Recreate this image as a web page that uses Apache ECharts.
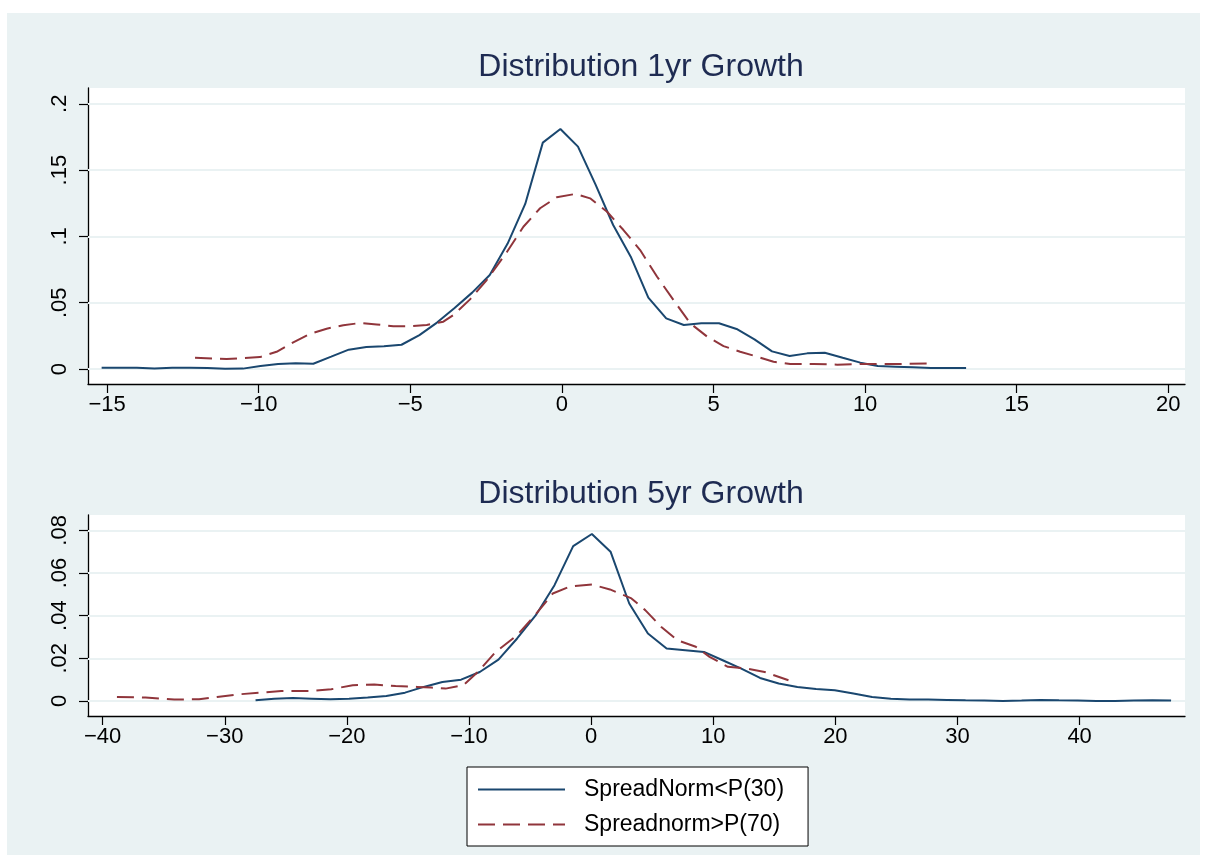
<!DOCTYPE html>
<html>
<head>
<meta charset="utf-8">
<script src="https://cdn.jsdelivr.net/npm/echarts@6/dist/echarts.min.js"></script>
<style>
html,body{margin:0;padding:0;background:#fff;}
#chart{width:1207px;height:861px;}
</style>
</head>
<body>
<div id="chart"></div>
<script>
// ---------- Data ----------
const seriesNames = ['SpreadNorm<P(30)', 'Spreadnorm>P(70)'];
const titles = ['Distribution 1yr Growth', 'Distribution 5yr Growth'];

// 1yr growth – SpreadNorm<P(30)
const x1yrLow = [-15.18,-14.60,-14.02,-13.44,-12.85,-12.27,-11.69,-11.11,-10.52,-9.94,-9.36,-8.78,-8.20,-7.61,-7.03,-6.45,-5.87,-5.29,-4.70,-4.12,-3.54,-2.96,-2.38,-1.79,-1.21,-0.63,-0.05,0.53,1.11,1.69,2.27,2.85,3.44,4.02,4.60,5.18,5.76,6.35,6.93,7.51,8.09,8.67,9.26,9.84,10.42,11.00,11.58,12.17,12.75,13.33];
const y1yrLow = [0.001,0.001,0.001,0.0003,0.001,0.001,0.0008,0.0002,0.0003,0.0023,0.0038,0.0043,0.004,0.0093,0.0146,0.0166,0.0171,0.0183,0.0256,0.035,0.046,0.0576,0.0709,0.0946,0.1245,0.1707,0.181,0.1677,0.139,0.1086,0.0847,0.0538,0.0382,0.0332,0.0345,0.0345,0.0302,0.0224,0.0133,0.0098,0.0118,0.0123,0.0085,0.0048,0.0023,0.0018,0.0013,0.0008,0.0008,0.0008];

// 1yr growth – Spreadnorm>P(70)
const x1yrHigh = [-12.1,-11.06,-9.96,-9.41,-8.86,-8.31,-7.76,-7.21,-6.66,-6.11,-5.56,-5.01,-4.46,-3.91,-3.58,-3.03,-2.48,-1.82,-1.27,-0.72,-0.17,0.44,0.93,1.49,2.03,2.58,3.14,3.68,4.23,4.79,5.33,5.88,6.44,6.98,7.53,8.3,9.08,9.95,11.06,12.18];
const y1yrHigh = [0.0085,0.0075,0.009,0.013,0.0201,0.0264,0.0304,0.033,0.0347,0.0336,0.0322,0.0322,0.0332,0.0357,0.0407,0.0525,0.0671,0.088,0.1073,0.1212,0.1295,0.132,0.1287,0.1186,0.1048,0.0897,0.0696,0.052,0.0345,0.0244,0.0173,0.013,0.0093,0.0055,0.0038,0.0038,0.0033,0.0038,0.0038,0.0043];

// 5yr growth – SpreadNorm<P(30)
const x5yrLow = [-27.48,-25.95,-24.42,-22.89,-21.36,-19.83,-18.30,-16.77,-15.24,-13.71,-12.18,-10.65,-9.12,-7.59,-6.06,-4.53,-3.00,-1.47,0.06,1.59,3.12,4.65,6.18,7.71,9.24,10.77,12.30,13.83,15.36,16.89,18.42,19.95,21.48,23.01,24.54,26.07,27.60,29.13,30.66,32.19,33.72,35.25,36.78,38.31,39.84,41.37,42.90,44.43,45.96,47.49];
const y5yrLow = [0.0003,0.0011,0.0014,0.0011,0.0008,0.0011,0.0016,0.0023,0.0039,0.0066,0.0089,0.01,0.0136,0.0194,0.0293,0.0402,0.0543,0.0726,0.0783,0.07,0.0457,0.0316,0.0246,0.0238,0.023,0.0191,0.0152,0.0108,0.0082,0.0066,0.0056,0.005,0.0035,0.0019,0.0011,0.0007,0.0007,0.0005,0.0003,0.0002,0.0,0.0002,0.0005,0.0003,0.0002,0.0,0.0,0.0002,0.0003,0.0002];

// 5yr growth – Spreadnorm>P(70)
const x5yrHigh = [-38.83,-36.49,-34.14,-32.1,-30.63,-28.88,-27.12,-25.37,-23.03,-21.28,-19.52,-17.76,-16.01,-14.26,-13.09,-11.92,-10.45,-9.28,-7.82,-6.07,-4.6,-3.14,-1.68,0.08,1.54,3.3,4.43,5.75,7.06,8.57,9.7,11.2,12.7,14.21,16.16];
const y5yrHigh = [0.0019,0.0016,0.0007,0.0008,0.0019,0.0031,0.0039,0.0047,0.0047,0.0055,0.0074,0.0077,0.007,0.0066,0.0063,0.0058,0.0074,0.0136,0.023,0.0308,0.0402,0.0504,0.0538,0.0546,0.0523,0.0481,0.0426,0.0347,0.0285,0.0254,0.0207,0.016,0.0152,0.0136,0.0097];

// Tick values / labels
const xTicks1yr = [-15,-10,-5,0,5,10,15,20];
const yTicks1yr = [0,0.05,0.1,0.15,0.2];
const yLabels1yr = ['0','.05','.1','.15','.2'];
const xTicks5yr = [-40,-30,-20,-10,0,10,20,30,40];
const yTicks5yr = [0,0.02,0.04,0.06,0.08];
const yLabels5yr = ['0','.02','.04','.06','.08'];

// ---------- Styling ----------
const FONT = "'Liberation Sans', Arial, Helvetica, sans-serif";
const BLUE = '#1a476f';
const RED = '#90353b';
const PANEL = '#eaf2f3';
const TITLE = '#1e2b52';

const zip = (xs, ys) => xs.map((x, i) => [x, ys[i]]);
const fmtX = v => (v < 0 ? '\u2212' + Math.abs(v) : String(v));
const yFmt = (ticks, labels) => v => {
  const i = ticks.findIndex(t => Math.abs(t - v) < 1e-9);
  return i >= 0 ? labels[i] : '';
};

function xAxisCfg(gridIndex, min, max, ticks) {
  return {
    type: 'value', gridIndex, min, max,
    axisLine: {show: true, onZero: false, lineStyle: {color: '#000', width: 1.3}},
    axisTick: {show: true, length: 9, customValues: ticks, lineStyle: {color: '#000', width: 1.2}},
    axisLabel: {show: true, customValues: ticks, formatter: fmtX, color: '#000',
      fontFamily: FONT, fontSize: 22, margin: 10},
    splitLine: {show: false}
  };
}
function yAxisCfg(gridIndex, min, max, ticks, labels) {
  return {
    type: 'value', gridIndex, min, max,
    axisLine: {show: true, onZero: false, lineStyle: {color: '#000', width: 1.3}},
    axisTick: {show: true, length: 9, customValues: ticks, lineStyle: {color: '#000', width: 1.2}},
    axisLabel: {show: true, customValues: ticks, formatter: yFmt(ticks, labels), rotate: 90,
      color: '#000', fontFamily: FONT, fontSize: 22, margin: 17},
    splitLine: {show: false}
  };
}
function gridLines(ticks) {
  return {
    silent: true, symbol: ['none', 'none'], z: 1,
    label: {show: false},
    lineStyle: {color: PANEL, width: 2, type: 'solid'},
    emphasis: {disabled: true},
    data: ticks.map(v => ({yAxis: v}))
  };
}
function lineSeries(name, xi, data, dashed, marks) {
  const s = {
    name, type: 'line', xAxisIndex: xi, yAxisIndex: xi, data,
    showSymbol: false, symbol: 'none', smooth: false, z: 3,
    lineStyle: dashed ? {color: RED, width: 2, type: [17, 8]} : {color: BLUE, width: 2, type: 'solid'},
    itemStyle: {color: dashed ? RED : BLUE},
    emphasis: {disabled: true}
  };
  if (marks) s.markLine = marks;
  return s;
}

const chart = echarts.init(document.getElementById('chart'), null, {renderer: 'canvas'});
chart.setOption({
  animation: false,
  backgroundColor: '#fff',
  graphic: [{
    type: 'rect', z: -100, silent: true,
    shape: {x: 7, y: 13, width: 1193, height: 842},
    style: {fill: PANEL}
  }],
  title: [
    {text: titles[0], left: 636, top: 46, textAlign: 'center',
      textStyle: {fontFamily: FONT, fontSize: 32, fontWeight: 'normal', color: TITLE}},
    {text: titles[1], left: 636, top: 473, textAlign: 'center',
      textStyle: {fontFamily: FONT, fontSize: 32, fontWeight: 'normal', color: TITLE}}
  ],
  grid: [
    {left: 88, right: 22, top: 88, height: 296, show: true, backgroundColor: '#fff', borderWidth: 0},
    {left: 88, right: 22, top: 515, height: 201, show: true, backgroundColor: '#fff', borderWidth: 0}
  ],
  xAxis: [
    xAxisCfg(0, -15.63, 20.55, xTicks1yr),
    xAxisCfg(1, -41.2, 48.63, xTicks5yr)
  ],
  yAxis: [
    yAxisCfg(0, -0.0113, 0.2119, yTicks1yr, yLabels1yr),
    yAxisCfg(1, -0.00704, 0.0872, yTicks5yr, yLabels5yr)
  ],
  legend: {
    left: 467, top: 767, orient: 'vertical',
    data: seriesNames,
    backgroundColor: '#fff', borderColor: '#000', borderWidth: 1,
    padding: [11, 24, 10, 10],
    itemWidth: 87, itemHeight: 20, itemGap: 12,
    selectedMode: false,
    itemStyle: {color: 'transparent', borderColor: 'transparent', borderWidth: 0, opacity: 0},
    textStyle: {fontFamily: FONT, fontSize: 23, color: '#000', padding: [0, 0, 0, 14]}
  },
  series: [
    lineSeries(seriesNames[0], 0, zip(x1yrLow, y1yrLow), false, gridLines(yTicks1yr)),
    lineSeries(seriesNames[1], 0, zip(x1yrHigh, y1yrHigh), true),
    lineSeries(seriesNames[0], 1, zip(x5yrLow, y5yrLow), false, gridLines(yTicks5yr)),
    lineSeries(seriesNames[1], 1, zip(x5yrHigh, y5yrHigh), true)
  ]
});
</script>
</body>
</html>
